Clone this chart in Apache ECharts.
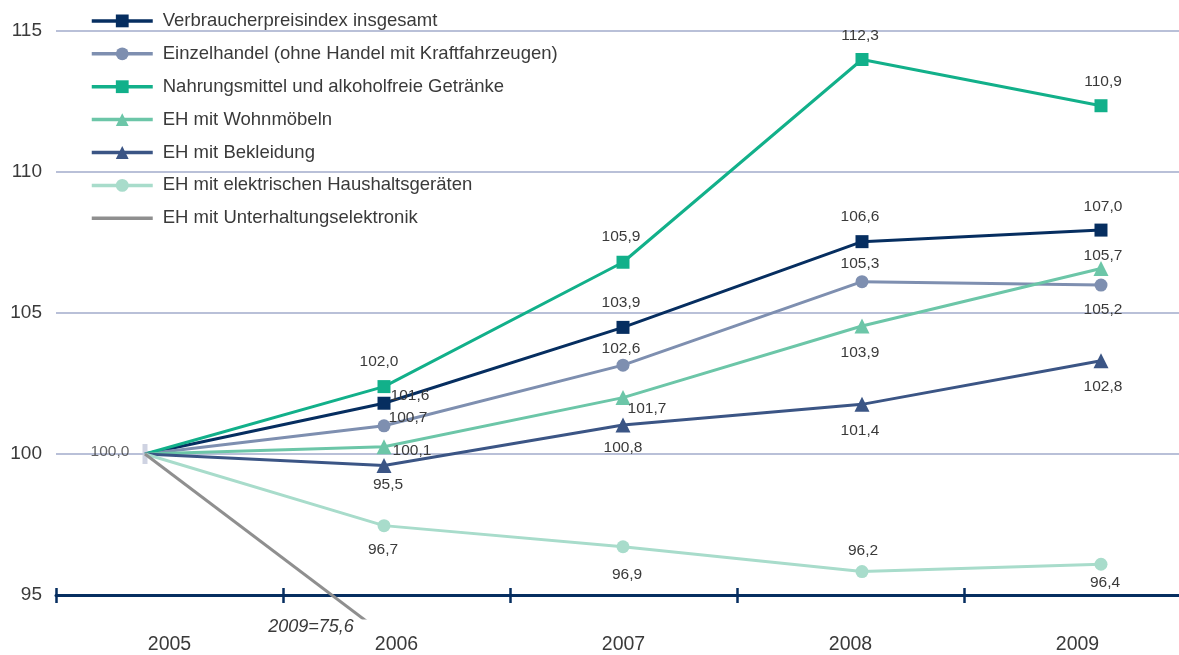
<!DOCTYPE html>
<html>
<head>
<meta charset="utf-8">
<script src="https://cdn.jsdelivr.net/npm/echarts@6/dist/echarts.min.js"></script>
<style>
html,body{margin:0;padding:0;background:#fff;overflow:hidden;width:1179px;height:655px;}
#chart{width:1191px;height:655px;}
</style>
</head>
<body>
<div id="chart"></div>
<script>
// ---- data ----
const years = ['2005', '2006', '2007', '2008', '2009'];
const yearNums = [2005, 2006, 2007, 2008, 2009];
const seriesNames = [
  'Verbraucherpreisindex insgesamt',
  'Einzelhandel (ohne Handel mit Kraftfahrzeugen)',
  'Nahrungsmittel und alkoholfreie Getränke',
  'EH mit Wohnmöbeln',
  'EH mit Bekleidung',
  'EH mit elektrischen Haushaltsgeräten',
  'EH mit Unterhaltungselektronik'
];
const verbraucher   = [100.0, 101.80, 104.49, 107.53, 107.94];
const einzelhandel  = [100.0, 101.00, 103.15, 106.11, 105.99];
const nahrung       = [100.0, 102.39, 106.80, 113.99, 112.35];
const wohnmoebel    = [100.0, 100.26, 102.00, 104.54, 106.58];
const bekleidung    = [100.0,  99.59, 101.03, 101.76, 103.31];
const haushalt      = [100.0,  97.46,  96.71,  95.83,  96.09];
const unterhaltung  = [100.0,  93.60, null, null, null];

const verbraucherLabels  = ['', '101,6', '103,9', '106,6', '107,0'];
const einzelhandelLabels = ['', '100,7', '102,6', '105,3', '105,2'];
const nahrungLabels      = ['', '102,0', '105,9', '112,3', '110,9'];
const wohnmoebelLabels   = ['', '100,1', '101,7', '103,9', '105,7'];
const bekleidungLabels   = ['', '95,5', '100,8', '101,4', '102,8'];
const haushaltLabels     = ['', '96,7', '96,9', '96,2', '96,4'];
const baseLabel = '100,0';
const unterhaltungNote = '2009=75,6';
const yTicks = [95, 100, 105, 110, 115];

// ---- styles ----
const FONT = 'Liberation Sans';
const TXT = '#3a3a3a';
const styles = [
  {color: '#062e60', symbol: 'rect', size: 13,
   offsets: [null, [26, -8], [-2, -25], [-2, -25], [2, -23]]},
  {color: '#7e8fb0', symbol: 'circle', size: 13,
   offsets: [null, [24, -8], [-2, -16], [-2, -18], [2, 25]]},
  {color: '#12b08a', symbol: 'rect', size: 13,
   offsets: [null, [-5, -25], [-2, -26], [-2, -24], [2, -24]]},
  {color: '#6cc6a8', symbol: 'triangle', size: 15,
   offsets: [null, [28, 4], [24, 11], [-2, 27], [2, -13]]},
  {color: '#3b5585', symbol: 'triangle', size: 15,
   offsets: [null, [4, 19], [0, 23], [-2, 26], [2, 26]]},
  {color: '#a8dccb', symbol: 'circle', size: 13,
   offsets: [null, [-1, 24], [4, 28], [1, -21], [4, 18]]}
];
const valueSets = [verbraucher, einzelhandel, nahrung, wohnmoebel, bekleidung, haushalt];
const labelSets = [verbraucherLabels, einzelhandelLabels, nahrungLabels, wohnmoebelLabels, bekleidungLabels, haushaltLabels];

const xMin = 2004.6276, xMax = 2009.3766;

const series = valueSets.map((vals, s) => ({
  name: seriesNames[s],
  type: 'line',
  xAxisIndex: 2,
  yAxisIndex: 0,
  z: 3,
  symbol: styles[s].symbol,
  symbolSize: styles[s].size,
  lineStyle: {color: styles[s].color, width: 3},
  itemStyle: {color: styles[s].color},
  data: vals.map((v, i) => {
    const item = {value: [yearNums[i], v]};
    if (i === 0) {
      item.symbol = 'none';
      item.label = {show: false};
    } else {
      item.label = {show: true, position: 'inside', offset: styles[s].offsets[i],
        formatter: labelSets[s][i], color: TXT, fontSize: 15.5, fontFamily: FONT};
    }
    return item;
  })
}));

series.push({
  name: seriesNames[6],
  type: 'line',
  xAxisIndex: 3,
  yAxisIndex: 1,
  z: 6,
  symbol: 'none',
  lineStyle: {color: '#8f8f8f', width: 3},
  itemStyle: {color: '#8f8f8f'},
  data: unterhaltung.map((v, i) => [yearNums[i], v]).filter(d => d[1] !== null)
});

series.push({
  name: 'base',
  type: 'scatter',
  xAxisIndex: 2,
  yAxisIndex: 0,
  z: 2,
  symbol: 'rect',
  symbolSize: [5, 20],
  itemStyle: {color: '#c3c8db'},
  label: {show: true, position: 'inside', offset: [-35, -2], formatter: baseLabel,
    color: TXT, fontSize: 15.5, fontFamily: FONT},
  data: [[yearNums[0], valueSets[0][0]]]
});

const legendData = seriesNames.map((n, i) => i === 6
  ? {name: n, itemStyle: {opacity: 0}}
  : {name: n});

const option = {
  animation: false,
  backgroundColor: '#fff',
  textStyle: {fontFamily: FONT},
  legend: {
    orient: 'vertical',
    left: 90,
    top: 11.4,
    padding: 0,
    itemWidth: 61,
    itemHeight: 16,
    itemGap: 13.9,
    selectedMode: false,
    lineStyle: {width: 3.5},
    textStyle: {fontSize: 18.5, color: TXT, fontFamily: FONT, padding: [0, 0, 0, 5]},
    data: legendData
  },
  grid: [
    {left: 56, right: 0, top: 31, bottom: 60},
    {left: 56, right: 0, top: 31, bottom: 37}
  ],
  xAxis: [
    {type: 'category', gridIndex: 0, data: years, position: 'bottom', boundaryGap: true,
     axisLine: {lineStyle: {color: '#062e60', width: 3}},
     axisTick: {show: true, length: 8, lineStyle: {color: '#062e60', width: 2.5}},
     axisLabel: {fontSize: 19.5, margin: 40, color: TXT, fontFamily: FONT},
     splitLine: {show: false}},
    {type: 'category', gridIndex: 0, data: years, position: 'bottom', boundaryGap: true,
     axisLine: {show: false},
     axisTick: {show: true, inside: true, length: 7, lineStyle: {color: '#062e60', width: 2.5}},
     axisLabel: {show: false}, splitLine: {show: false}},
    {type: 'value', gridIndex: 0, min: xMin, max: xMax, show: false},
    {type: 'value', gridIndex: 1, min: xMin, max: xMax, show: false}
  ],
  yAxis: [
    {type: 'value', gridIndex: 0, min: yTicks[0], max: yTicks[yTicks.length - 1], interval: 5,
     axisLine: {show: false}, axisTick: {show: false},
     axisLabel: {fontSize: 19, margin: 14, color: TXT, fontFamily: FONT},
     splitLine: {lineStyle: {color: '#b9c0d8', width: 2}}},
    {type: 'value', gridIndex: 1, min: 94.184, max: 115, show: false}
  ],
  graphic: [
    {type: 'text', x: 311, y: 627, z: 10,
     style: {text: unterhaltungNote, fill: TXT, fontSize: 18, fontStyle: 'italic',
             fontFamily: FONT, align: 'center', verticalAlign: 'middle'}}
  ],
  series: series
};

const chart = echarts.init(document.getElementById('chart'), null, {renderer: 'canvas'});
chart.setOption(option);
</script>
</body>
</html>
